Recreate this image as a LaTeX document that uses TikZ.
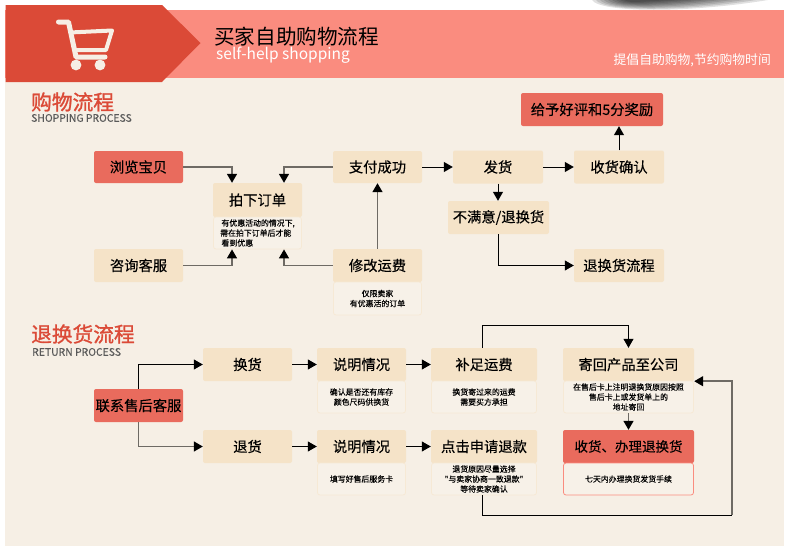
\documentclass[tikz,border=0pt]{standalone}
\usepackage{fontspec}
\setmainfont{Noto Sans CJK SC}
\newfontfamily\medfont[FakeBold=0.35]{Noto Sans CJK SC}
\newfontfamily\headfont[FakeBold=1.3]{Noto Sans CJK SC}
\newfontfamily\notefont[FakeBold=0.2]{Noto Sans CJK SC}
\usetikzlibrary{arrows.meta,calc}
\definecolor{panel}{HTML}{F6EFE5}
\definecolor{band}{HTML}{FA8C7F}
\definecolor{deep}{HTML}{DB4A37}
\definecolor{redbox}{HTML}{E96B5D}
\definecolor{tan}{HTML}{F5E3C8}
\definecolor{notefill}{HTML}{F7F1E8}
\definecolor{noteedge}{HTML}{F6E9D5}
\definecolor{greyline}{HTML}{6E6A64}
\tikzset{
  x=1pt,y=-1pt,
  sz/.style 2 args={minimum width=#1pt,minimum height=#2pt},
  flowbox/.style={fill=tan,rounded corners=2pt,inner sep=0pt,text=black,font=\medfont\fontsize{14.3}{16}\selectfont},
  hotbox/.style={flowbox,fill=redbox},
  notebox/.style={fill=notefill,draw=noteedge,line width=.8pt,rounded corners=2.5pt,inner sep=0pt,align=center,text=black,font=\notefont\fontsize{7.9}{10}\selectfont},
  thin link/.style={draw=black,line width=1pt,-{Triangle[length=9pt,width=10pt,color=black]}},
  thick link/.style={draw=greyline,line width=1.5pt,-{Triangle[length=9pt,width=10pt,color=black]}},
  heading/.style={text=deep,inner sep=0pt,anchor=west,font=\headfont\fontsize{20.7}{22}\selectfont},
  subheading/.style={text=black!65,inner sep=0pt,anchor=west,font=\notefont\fontsize{10.4}{12}\selectfont},
}
\begin{document}
\begin{tikzpicture}
\useasboundingbox (0,0) rectangle (789,549);
\fill[white] (0,0) rectangle (789,549);
% shadow crescent
\foreach \i in {0,...,8}{
  \fill[black,opacity=.12] ({592+\i*4},0) .. controls ({600+\i*4},{13-\i*1.3}) and ({690-\i*8},{13-\i*1.3}) .. ({768-\i*12},0) -- cycle;
}
% panel and header
\fill[panel] (5,77) rectangle (784,546);
\fill[band] (5,10) rectangle (784,77.5);
\fill[deep] (5.5,5) -- (162,5) -- (200.5,43) -- (162,82) -- (5.5,82) -- cycle;
% cart
\draw[panel,line width=4pt,line join=round]
  (70,32.5) -- (112,30.5) -- (106,50) -- (73,50);
\draw[panel,line width=5pt,line cap=round,line join=round]
  (58.5,22) -- (68.5,22) -- (76,57) -- (105,57);
\fill[panel] (76,65) circle (5.4) (100,65) circle (5.4);
% header text
\node[inner sep=0pt,anchor=west,text=black,font=\fontsize{20.6}{24}\selectfont] (title) at (214,36.5) {买家自助购物流程};
\node[inner sep=0pt,anchor=west,text=white,font=\fontsize{15.5}{18}\selectfont] (subtitle) at (216,55.5) {self-help shopping};
\node[inner sep=0pt,anchor=east,text=white,font=\fontsize{12.8}{15}\selectfont] (slogan) at (771,60) {提倡自助购物,节约购物时间};
\node[heading] (h1) at (31,102) {购物流程};
\node[subheading] (h1s) at (31,118) {SHOPPING PROCESS};
\node[heading] (h2) at (31,334) {退换货流程};
\node[subheading] (h2s) at (32,352) {RETURN PROCESS};
% shopping flow
\node[hotbox,sz={89}{32}] (browse) at (138.5,167) {浏览宝贝};
\node[flowbox,sz={89}{33}] (chat) at (138.5,265.5) {咨询客服};
\node[flowbox,sz={89}{34}] (order) at (257.5,200) {拍下订单};
\node[notebox,sz={88}{32},align=left] (ordern) at (257.5,233) {\hspace{1.3pt}有优惠活动的情况下,\\需在拍下订单后才能\\\hspace{1.3pt}看到优惠};
\node[flowbox,sz={89}{32}] (paid) at (377.5,167) {支付成功};
\node[flowbox,sz={89}{33}] (fee) at (377.5,265.5) {修改运费};
\node[notebox,sz={88}{33}] (feen) at (377.5,298.5) {仅限卖家\\有优惠活的订单};
\node[hotbox,sz={142}{33}] (praise) at (592,109.5) {给予好评和5分奖励};
\node[flowbox,sz={90}{33}] (ship) at (498,167) {发货};
\node[flowbox,sz={90}{33}] (recv) at (619,167) {收货确认};
\node[flowbox,sz={101}{33}] (unhappy) at (498.5,217.5) {不满意/退换货};
\node[flowbox,sz={90}{33}] (rflow) at (619,265.5) {退换货流程};
% return flow
\node[hotbox,sz={89}{33}] (svc) at (138.5,405.5) {联系售后客服};
\node[flowbox,sz={89}{33}] (swap) at (247.5,364.5) {换货};
\node[flowbox,sz={89}{33}] (refund) at (247.5,446.5) {退货};
\node[flowbox,sz={89}{33}] (expa) at (361.5,364.5) {说明情况};
\node[notebox,sz={88}{32}] (expan) at (361.5,397) {确认是否还有库存\\颜色尺码供换货};
\node[flowbox,sz={89}{33}] (expb) at (361.5,446.5) {说明情况};
\node[notebox,sz={88}{32}] (expbn) at (361.5,479) {填写好售后服务卡};
\node[flowbox,sz={106}{33}] (topup) at (484,364.5) {补足运费};
\node[notebox,sz={105}{32}] (topupn) at (484,397) {换货寄过来的运费\\需要买方承担};
\node[flowbox,sz={106}{33}] (apply) at (484,446.5) {点击申请退款};
\node[notebox,sz={105}{32}] (applyn) at (484,479) {退货原因尽量选择\\"与卖家协商一致退款"\\等待卖家确认};
\node[flowbox,sz={131}{33}] (send) at (628.5,364.5) {寄回产品至公司};
\node[notebox,sz={130}{32}] (sendn) at (628.5,397) {在售后卡上注明退换货原因按照\\售后卡上或发货单上的\\地址寄回};
\node[hotbox,sz={131}{33},font=\medfont\fontsize{13.5}{16}\selectfont] (done) at (628.5,446.5) {收货、办理退换货};
\node[notebox,draw=band,sz={130}{32}] (donen) at (628.5,479) {七天内办理换货发货手续};
\coordinate (loop) at (732,515);
% links
\draw[thick link] (browse.east) -| ([xshift=-25.5pt]order.north);
\draw[thick link] (paid.west) -| ([xshift=26.5pt]order.north);
\draw[thick link] (chat.east) -| ([xshift=-25.5pt]ordern.south);
\draw[thick link] (fee.west) -| ([xshift=26.5pt]ordern.south);
\draw[thick link] (fee.north) -- (paid.south);
\draw[thin link] (paid.east) -- (ship.west);
\draw[thin link] (ship.east) -- (recv.west);
\draw[thin link] (recv.north) -- (recv.north |- praise.south);
\draw[thin link] (ship.south) -- (ship.south |- unhappy.north);
\draw[thin link] (unhappy.south) |- (rflow.west);
\draw[thin link] (svc.north) |- (swap.west);
\draw[thick link] (svc.south) |- (refund.west);
\draw[thin link] (swap.east) -- (expa.west);
\draw[thin link] (refund.east) -- (expb.west);
\draw[thin link] (expa.east) -- (topup.west);
\draw[thin link] (expb.east) -- (apply.west);
\draw[thin link] ([xshift=-2pt]topup.north) -- ++(0,-22) -| (send.north);
\draw[thick link] (sendn.south) -- (done.north);
\draw[draw=black,line width=1pt] ([xshift=-2pt]applyn.south) |- (loop);
\draw[thick link] (loop) |- (send.south east);
\end{tikzpicture}
\end{document}
